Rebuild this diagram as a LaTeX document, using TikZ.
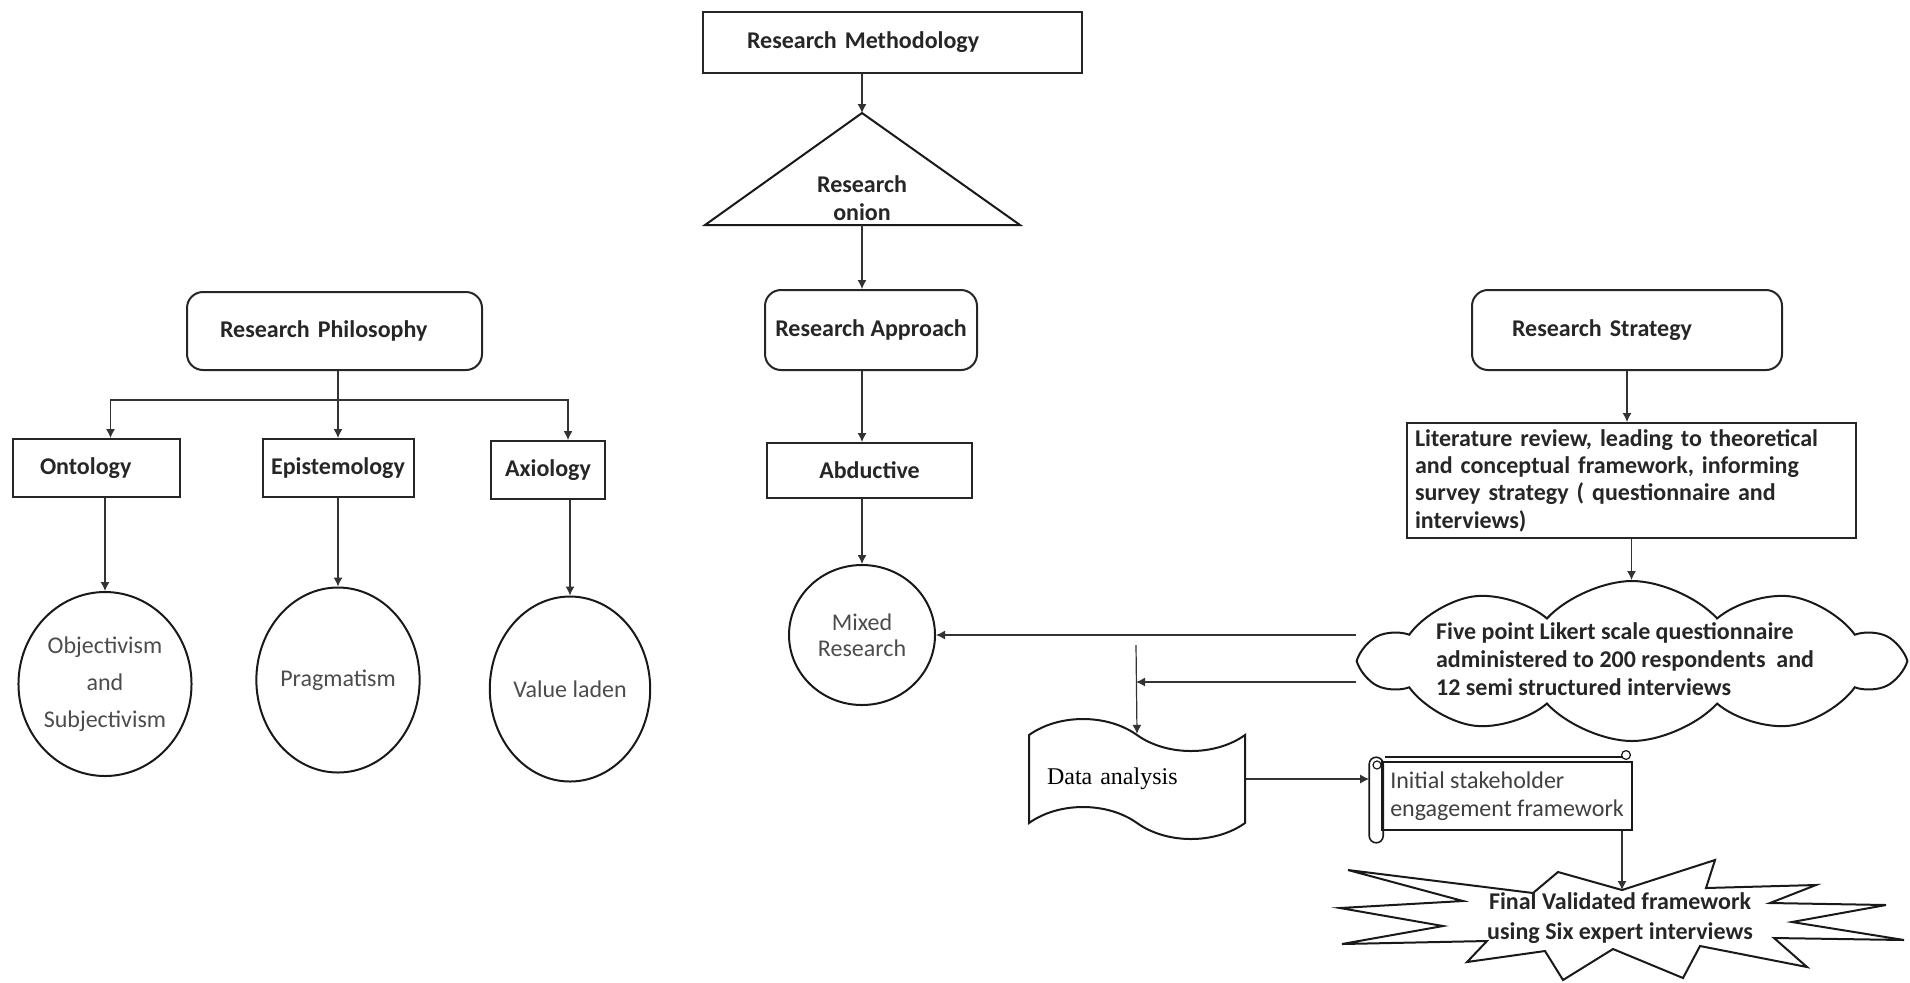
\documentclass[tikz,border=0pt]{standalone}
\usepackage{fontspec}
\setmainfont{Carlito}
\newfontfamily\serifrm{Liberation Serif}
\usetikzlibrary{arrows.meta,shapes.geometric,shapes.symbols}

\newcommand{\lblbold}{\fontsize{12}{14}\selectfont\bfseries}
\newcommand{\lblplain}{\fontsize{12}{14}\selectfont}

\tikzset{
  box/.style={draw=black!85, line width=1pt, rectangle, font=\lblbold, text=black!85, align=left, inner ysep=0pt},
  rbox/.style={box, rounded corners=8pt},
  circ/.style={draw=black!90, line width=1pt, ellipse, inner sep=0pt, align=center, text=black!70, font=\fontsize{12}{18.5}\selectfont},
  arr/.style={draw=black!80, line width=0.6pt, -{Latex[length=4.5pt,width=4.5pt]}},
  conn/.style={draw=black!80, line width=0.6pt},
}

\begin{document}
\begin{tikzpicture}[x=0.5pt, y=-0.5pt]
\useasboundingbox (0,0) rectangle (1910,982);

% middle column
\node[box, minimum height=30.5pt, text width=145.5pt, inner xsep=22pt] (method) at (892.5,42.5) {Research Methodology};

\coordinate (onionapex) at (862,113);
\coordinate (onionbase) at (862,225);
\draw[line width=1pt, black!90] (onionapex) -- (1020,225) -- (705,225) -- cycle;
\node[font=\lblbold, align=center, text=black!85] (onion) at (862,198) {Research\\onion};

\node[rbox, minimum width=106pt, minimum height=40pt, align=center] (approach) at (871,330) {Research Approach};
\node[box, minimum width=102.5pt, minimum height=27.5pt, align=center] (abductive) at (869.5,470.5) {Abductive};
\node[circ, minimum width=73pt, minimum height=70pt, font=\fontsize{12}{13}\selectfont] (mixed) at (862,635) {Mixed\\Research};

% left column
\node[rbox, minimum height=39pt, text width=114.5pt, inner xsep=16.5pt] (philo) at (334.5,331) {Research Philosophy};
\coordinate (bus) at (338,400);

\node[box, minimum height=29pt, text width=56.5pt, inner xsep=13.5pt] (onto) at (96.5,468) {Ontology};
\node[box, minimum width=75.5pt, minimum height=29pt, align=center] (epist) at (338,468) {Epistemology};
\node[box, minimum width=57pt, minimum height=29pt, align=center] (axio) at (548,470) {Axiology};

\node[circ, minimum width=81pt, minimum height=92pt] (obj) at (105,684) {Objectivism\\and\\Subjectivism};
\node[circ, minimum width=78pt, minimum height=92.5pt] (prag) at (338,680) {Pragmatism};
\node[circ, minimum width=79.5pt, minimum height=92.5pt] (value) at (570,689) {Value laden};

% right column
\node[rbox, minimum height=40pt, text width=115pt, inner xsep=20pt] (strategy) at (1627,330) {Research Strategy};
\node[box, minimum height=57.5pt, text width=216.5pt, inner xsep=4pt, font=\fontsize{12}{13.7}\selectfont\bfseries] (lit) at (1631.5,480.5) {Literature review, leading to theoretical\\and conceptual framework, informing\\survey strategy ( questionnaire and\\interviews)};

\node[cloud, draw=black!90, line width=1pt, cloud puffs=10, cloud puff arc=95, cloud ignores aspect, minimum width=268pt, minimum height=80pt, inner sep=0pt] (likert) at (1632,661) {};
\node[font=\lblbold, align=left, text=black!85] (likerttext) at (1625,659) {Five point Likert scale questionnaire\\administered to 200 respondents~ and\\12 semi structured interviews};

\coordinate (split) at (1136,682);
\coordinate (splittop) at (1136,645);

\node[draw=black!90, line width=1pt, tape, tape bend top=out and in, tape bend bottom=out and in, tape bend height=16pt, minimum width=108pt, minimum height=60pt, inner xsep=9pt, text width=90pt, align=left, font=\serifrm\fontsize{12}{14}\selectfont] (data) at (1137,779) {Data analysis};

\node[draw=black!90, line width=0.8pt, rectangle, minimum width=125pt, minimum height=34pt, inner sep=0pt, align=left, text=black!75, font=\lblplain] (initial) at (1507,796) {Initial stakeholder\\engagement framework};
\coordinate (rollleft) at ([xshift=-6pt]initial.west);
\draw[line width=0.8pt, black!90, rounded corners=3.5pt] ([xshift=-6pt,yshift=2pt]initial.north west) rectangle ([xshift=1pt,yshift=-6pt]initial.south west);
\draw[line width=0.6pt, black!90] (1377,765) circle (2pt);
\draw[line width=0.6pt, black!90] (1385,757) -- (1622,757);
\draw[line width=0.6pt, black!90] (1626,755) circle (2.2pt);

% starburst
\draw[line width=1pt, black!90] (1348,870) -- (1533,893) -- (1558,872) -- (1622,890) -- (1715,860) -- (1706,888)
  -- (1816,885) -- (1770,903) -- (1886,905) -- (1792,922) -- (1904,940) -- (1774,938) -- (1807,967)
  -- (1700,946) -- (1683,978) -- (1613,949) -- (1563,980) -- (1545,951) -- (1467,962) -- (1487,941)
  -- (1342,944) -- (1443,926) -- (1340,908) -- (1463,901) -- cycle;
\coordinate (finaltop) at (1622,890);
\node[font=\fontsize{12}{15}\selectfont\bfseries, align=center, text=black!85] (final) at (1620,918) {Final Validated framework\\using Six expert interviews};

% connectors
\draw[arr] (method.south -| onionapex) -- (onionapex);
\draw[arr] (onionbase) -- (onionbase |- approach.north);
\draw[arr] (onionbase |- approach.south) -- (onionbase |- abductive.north);
\draw[arr] (onionbase |- abductive.south) -- (mixed);

\draw[conn] (philo.south -| bus) -- (bus);
\draw[arr] (bus) -- (epist);
\draw[arr] (bus) -| ([xshift=7pt]onto.north);
\draw[arr] (bus) -| ([xshift=10pt]axio.north);
\draw[arr] (obj.north |- onto.south) -- (obj);
\draw[arr] (epist) -- (prag);
\draw[arr] (value.north |- axio.south) -- (value);

\draw[arr] (strategy) -- (strategy |- lit.north);
\draw[arr] (lit) -- (lit |- likert.north);
\draw[arr] (likert.west |- mixed) -- (mixed);
\draw[arr] (likert.west |- split) -- (split);
\draw[arr] (splittop) -- (data.north);
\draw[arr] (data.east) -- (data.east -| rollleft);
\draw[arr] (initial.south -| finaltop) -- (finaltop);

\end{tikzpicture}
\end{document}
